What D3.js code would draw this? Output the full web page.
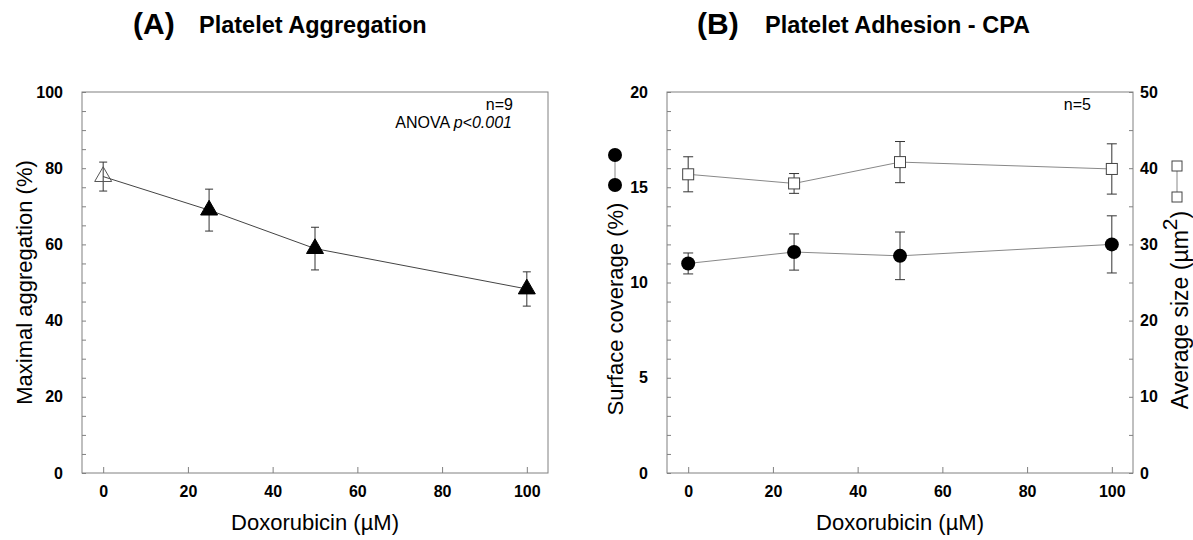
<!DOCTYPE html>
<html>
<head>
<meta charset="utf-8">
<script src="https://cdn.jsdelivr.net/npm/d3@7"></script>
<style>
  body { margin: 0; background: #fff; }
  svg { display: block; font-family: "Liberation Sans", Arial, sans-serif; }
  .tick text { font-size: 16px; font-weight: bold; fill: #000; }
  .tick line { stroke: #808080; }
</style>
</head>
<body>
<script>
const WIDTH = 1193;
const HEIGHT = 540;

// doxorubicin concentrations (uM)
const doses = [0, 25, 50, 100];

// (A) maximal aggregation (%), mean and error
const aggregationMean = [77.8, 69.0, 58.9, 48.3];
const aggregationErr = [3.8, 5.5, 5.6, 4.5];

// (B) surface coverage (%) - circles, left axis
const coverageMean = [11.0, 11.6, 11.4, 12.0];
const coverageErr = [0.55, 0.95, 1.25, 1.5];

// (B) average size (um^2) - squares, right axis
const sizeMean = [39.2, 38.0, 40.8, 39.9];
const sizeErr = [2.3, 1.3, 2.7, 3.3];

const xTicks = [0, 20, 40, 60, 80, 100];
const aggTicks = [0, 20, 40, 60, 80, 100];
const coverageTicks = [0, 5, 10, 15, 20];
const sizeTicks = [0, 10, 20, 30, 40, 50];

const FRAME = { top: 92, bottom: 473 };
const PANEL_A = { left: 82, right: 548 };
const PANEL_B = { left: 667, right: 1133 };

const svg = d3.select("body").append("svg")
  .attr("width", WIDTH)
  .attr("height", HEIGHT);

// scales
const xA = d3.scaleLinear().domain([-5, 105]).range([PANEL_A.left, PANEL_A.right]);
const yA = d3.scaleLinear().domain([0, 100]).range([FRAME.bottom, FRAME.top]);
const xB = d3.scaleLinear().domain([-5, 105]).range([PANEL_B.left, PANEL_B.right]);
const yBL = d3.scaleLinear().domain([0, 20]).range([FRAME.bottom, FRAME.top]);
const yBR = d3.scaleLinear().domain([0, 50]).range([FRAME.bottom, FRAME.top]);

const labelOnly = list => d => (list.includes(d) ? d : "");

function frame(panel) {
  svg.append("rect")
    .attr("x", panel.left)
    .attr("y", FRAME.top)
    .attr("width", panel.right - panel.left)
    .attr("height", FRAME.bottom - FRAME.top)
    .attr("fill", "none")
    .attr("stroke", "#808080");
}

function bottomAxis(x) {
  svg.append("g")
    .attr("transform", `translate(0,${FRAME.bottom})`)
    .call(d3.axisBottom(x).tickValues(xTicks).tickSize(-6).tickPadding(13))
    .call(g => g.select(".domain").remove());
}

function errorBars(x, y, means, errs, cap) {
  const g = svg.append("g").attr("stroke", "#333").attr("stroke-width", 1);
  doses.forEach((d, i) => {
    const cx = x(d);
    const top = y(means[i] + errs[i]);
    const bot = y(means[i] - errs[i]);
    g.append("line").attr("x1", cx).attr("x2", cx).attr("y1", top).attr("y2", bot);
    g.append("line").attr("x1", cx - cap).attr("x2", cx + cap).attr("y1", top).attr("y2", top);
    g.append("line").attr("x1", cx - cap).attr("x2", cx + cap).attr("y1", bot).attr("y2", bot);
  });
}

function connect(x, y, means, color) {
  const line = d3.line().x((d, i) => x(d)).y((d, i) => y(means[i]));
  svg.append("path")
    .datum(doses)
    .attr("d", line)
    .attr("fill", "none")
    .attr("stroke", color)
    .attr("stroke-width", 1);
}

function axisTitle(text, x, y, rotate) {
  return svg.append("text")
    .attr("transform", `translate(${x},${y})` + (rotate ? " rotate(-90)" : ""))
    .attr("text-anchor", "middle")
    .attr("font-size", 22)
    .text(text);
}

// ---------- Panel A ----------
frame(PANEL_A);

svg.append("g")
  .attr("transform", `translate(${PANEL_A.left},0)`)
  .call(d3.axisLeft(yA).tickValues(d3.range(0, 101, 5)).tickSize(-4).tickPadding(19)
    .tickFormat(labelOnly(aggTicks)))
  .call(g => g.select(".domain").remove());

bottomAxis(xA);

connect(xA, yA, aggregationMean, "#444");
errorBars(xA, yA, aggregationMean, aggregationErr, 4);

const triangle = d3.symbol().type(d3.symbolTriangle).size(125);
svg.append("g")
  .selectAll("path")
  .data(doses)
  .join("path")
  .attr("transform", (d, i) => `translate(${xA(d)},${yA(aggregationMean[i])})`)
  .attr("d", triangle)
  .attr("fill", (d, i) => (i === 0 ? "none" : "#000"))
  .attr("stroke", (d, i) => (i === 0 ? "#555" : "#000"));

svg.append("text")
  .attr("x", 513).attr("y", 110)
  .attr("text-anchor", "end")
  .attr("font-size", 16)
  .text("n=9");

const anova = svg.append("text")
  .attr("x", 512).attr("y", 128)
  .attr("text-anchor", "end")
  .attr("font-size", 16);
anova.append("tspan").text("ANOVA ");
anova.append("tspan").attr("font-style", "italic").text("p<0.001");

axisTitle("Maximal aggregation (%)", 32, (FRAME.top + FRAME.bottom) / 2, true);
axisTitle("Doxorubicin (\u00B5M)", (PANEL_A.left + PANEL_A.right) / 2, 530, false);

svg.append("text")
  .attr("x", 133).attr("y", 34)
  .attr("font-size", 30).attr("font-weight", "bold")
  .text("(A)");
svg.append("text")
  .attr("x", 199).attr("y", 33)
  .attr("font-size", 23.5).attr("font-weight", "bold")
  .text("Platelet Aggregation");

// ---------- Panel B ----------
frame(PANEL_B);

svg.append("g")
  .attr("transform", `translate(${PANEL_B.left},0)`)
  .call(d3.axisLeft(yBL).tickValues(d3.range(0, 21, 1)).tickSize(-4).tickPadding(19)
    .tickFormat(labelOnly(coverageTicks)))
  .call(g => g.select(".domain").remove());

svg.append("g")
  .attr("transform", `translate(${PANEL_B.right},0)`)
  .call(d3.axisRight(yBR).tickValues(d3.range(0, 51, 5)).tickSize(-4).tickPadding(7)
    .tickFormat(labelOnly(sizeTicks)))
  .call(g => g.select(".domain").remove());

bottomAxis(xB);

// squares (average size)
connect(xB, yBR, sizeMean, "#888");
errorBars(xB, yBR, sizeMean, sizeErr, 5);
svg.append("g")
  .selectAll("rect")
  .data(doses)
  .join("rect")
  .attr("x", d => xB(d) - 5.5)
  .attr("y", (d, i) => yBR(sizeMean[i]) - 5.5)
  .attr("width", 11)
  .attr("height", 11)
  .attr("fill", "#fff")
  .attr("stroke", "#444");

// circles (surface coverage)
connect(xB, yBL, coverageMean, "#888");
errorBars(xB, yBL, coverageMean, coverageErr, 5);
svg.append("g")
  .selectAll("circle")
  .data(doses)
  .join("circle")
  .attr("cx", d => xB(d))
  .attr("cy", (d, i) => yBL(coverageMean[i]))
  .attr("r", 7)
  .attr("fill", "#000");

svg.append("text")
  .attr("x", 1091).attr("y", 110)
  .attr("text-anchor", "end")
  .attr("font-size", 16)
  .text("n=5");

// left title with circle key
axisTitle("Surface coverage (%)", 623, 309, true);
svg.append("line")
  .attr("x1", 615).attr("x2", 615).attr("y1", 155).attr("y2", 185)
  .attr("stroke", "#888");
svg.append("g")
  .selectAll("circle")
  .data([155, 185])
  .join("circle")
  .attr("cx", 615).attr("cy", d => d).attr("r", 7).attr("fill", "#000");

// right title with square key
const right = svg.append("text")
  .attr("transform", "translate(1188,310) rotate(-90)")
  .attr("text-anchor", "middle")
  .attr("font-size", 23);
right.append("tspan").text("Average size (\u00B5m");
right.append("tspan").attr("baseline-shift", "super").attr("font-size", 21).text("2");
right.append("tspan").text(")");

svg.append("line")
  .attr("x1", 1177).attr("x2", 1177).attr("y1", 166).attr("y2", 197)
  .attr("stroke", "#888");
svg.append("g")
  .selectAll("rect")
  .data([166, 197])
  .join("rect")
  .attr("x", 1172).attr("y", d => d - 5)
  .attr("width", 10).attr("height", 10)
  .attr("fill", "#fff").attr("stroke", "#444");

axisTitle("Doxorubicin (\u00B5M)", (PANEL_B.left + PANEL_B.right) / 2, 530, false);

svg.append("text")
  .attr("x", 697).attr("y", 34)
  .attr("font-size", 30).attr("font-weight", "bold")
  .text("(B)");
svg.append("text")
  .attr("x", 765).attr("y", 33)
  .attr("font-size", 23.5).attr("font-weight", "bold")
  .text("Platelet Adhesion - CPA");
</script>
</body>
</html>
